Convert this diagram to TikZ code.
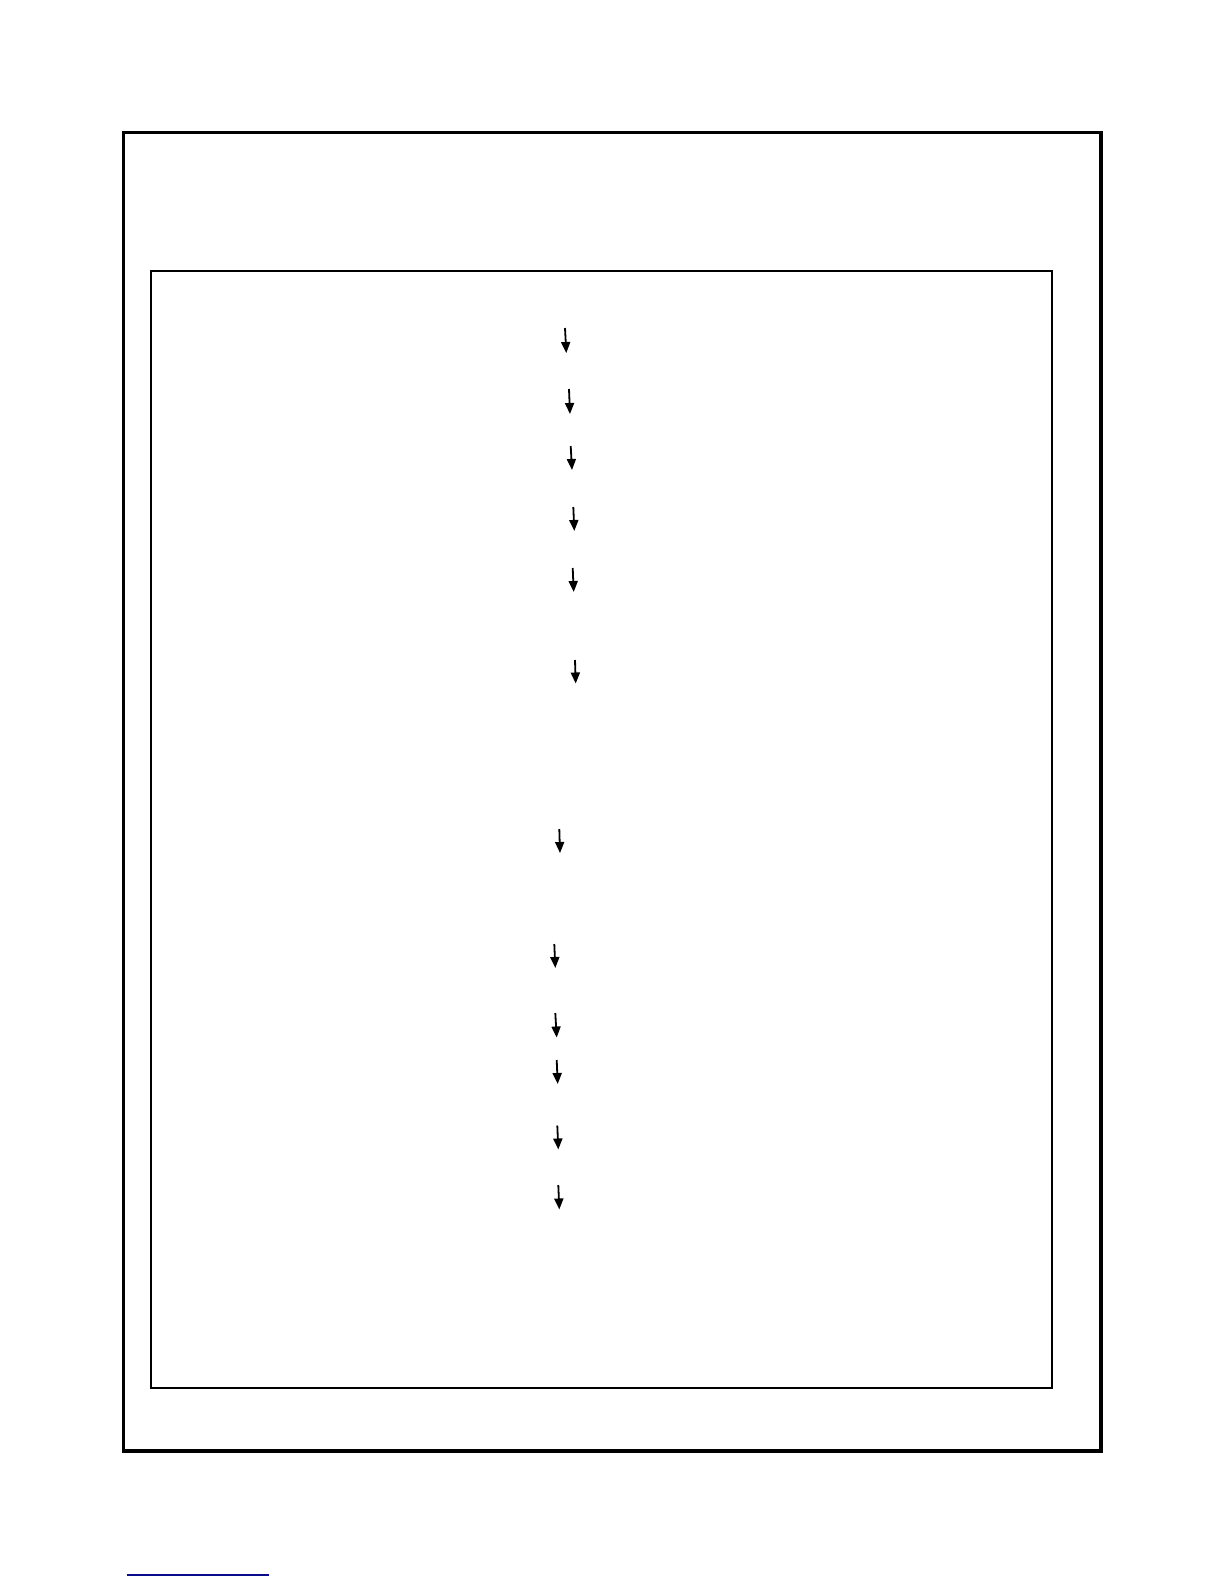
\documentclass[tikz,border=0pt]{standalone}
\usepackage{tikz}
\usepackage{xcolor}
\usetikzlibrary{arrows.meta}
\definecolor{linkblue}{RGB}{10, 10, 140}
\tikzset{
    outerframe/.style={draw, line width=1.8pt},
    innerframe/.style={draw, line width=1pt},
    flowarrow/.style={-{Triangle[length=5.5pt, width=4.5pt]}, line width=0.9pt},
    linkrule/.style={draw=linkblue, line width=0.8pt}
}

\begin{document}
\begin{tikzpicture}[x=0.5pt, y=-0.5pt]
    \useasboundingbox (0,0) rectangle (1224,1584);

    % frames
    \draw[outerframe] (123.5,132.7) rectangle (1100.8,1451);
    \draw[innerframe] (150.7,271) rectangle (1052.3,1387.7);

    % small down arrows, top to bottom
    \foreach \i/\xa/\ya/\xb/\yb in {1/565/328/566.3/353, 2/569/389/570/414,
        3/570.7/446/572/470, 4/573.3/507/574.3/531, 5/572.7/568/573.7/592,
        6/575/660/575.7/683.5, 7/559.3/829/560/853, 8/554.3/944/555.3/968,
        9/555.3/1013/556.7/1037.5, 10/556.7/1060/557.7/1084,
        11/557.3/1125.5/558.3/1149.5, 12/558.3/1185/559.3/1209.5} {
        \coordinate (top\i) at (\xa,\ya);
        \coordinate (tip\i) at (\xb,\yb);
        \draw[flowarrow] (top\i) -- (tip\i);
    }

    % footnote rule
    \coordinate (ruleL) at (126.7,1575);
    \coordinate (ruleR) at (269,1575);
    \draw[linkrule] (ruleL) -- (ruleR);
\end{tikzpicture}
\end{document}
